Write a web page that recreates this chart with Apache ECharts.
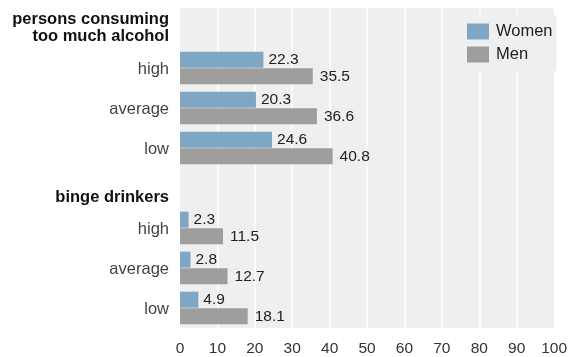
<!DOCTYPE html>
<html>
<head>
<meta charset="utf-8">
<script src="https://cdn.jsdelivr.net/npm/echarts@6/dist/echarts.min.js"></script>
<style>
  html, body { margin: 0; padding: 0; background: #fff; }
  #chart { width: 570px; height: 357px; }
</style>
</head>
<body>
<div id="chart"></div>
<script>
// rows top to bottom; headers carry no bars
var rowLabels = ['persons consuming\ntoo much alcohol', 'high', 'average', 'low', 'binge drinkers', 'high', 'average', 'low'];
var headerRows = [0, 4];
var women = ['-', 22.3, 20.3, 24.6, '-', 2.3, 2.8, 4.9];
var men = ['-', 35.5, 36.6, 40.8, '-', 11.5, 12.7, 18.1];
var xTicks = [0, 100, 10]; // min, max, step

var font = '"Liberation Sans", Arial, Helvetica, sans-serif';

var chart = echarts.init(document.getElementById('chart'));
chart.setOption({
  animation: false,
  textStyle: { fontFamily: font },
  grid: { left: 180, right: 10, top: 8, bottom: 24, backgroundColor: '#efefef', show: true, borderWidth: 0 },
  legend: {
    data: ['Women', 'Men'],
    orient: 'vertical',
    left: 457,
    top: 15,
    padding: [8, 4, 8, 10],
    backgroundColor: '#efefef',
    itemWidth: 22,
    itemHeight: 16,
    itemGap: 6,
    icon: 'rect',
    textStyle: { fontSize: 16.5, color: '#222', fontFamily: font, padding: [0, 0, 0, 2] }
  },
  xAxis: {
    type: 'value',
    min: xTicks[0],
    max: xTicks[1],
    interval: xTicks[2],
    axisLine: { show: false },
    axisTick: { show: false },
    splitLine: { showMinLine: false, showMaxLine: false, lineStyle: { color: '#ffffff', width: 1.5 } },
    axisLabel: { fontSize: 15.5, color: '#333', margin: 13, fontFamily: font }
  },
  yAxis: {
    type: 'category',
    inverse: true,
    data: rowLabels.map(function (l, i) { return 'r' + i; }),
    axisLine: { show: false },
    axisTick: { show: false },
    splitLine: { show: false },
    axisLabel: {
      margin: 11,
      formatter: function (v, idx) {
        if (headerRows.indexOf(idx) >= 0) {
          return idx === 0 ? '{h|' + rowLabels[idx].split('\n').join('}\n{h|') + '}' : '{hs|' + rowLabels[idx] + '}';
        }
        return '{n|' + rowLabels[idx] + '}';
      },
      rich: {
        h: { fontSize: 16.5, fontWeight: 'bold', color: '#111', lineHeight: 17, align: 'right', fontFamily: font },
        hs: { fontSize: 16.5, fontWeight: 'bold', color: '#111', lineHeight: 17, padding: [18, 0, 0, 0], align: 'right', fontFamily: font },
        n: { fontSize: 16.5, color: '#444', lineHeight: 17, padding: [2, 0, 0, 0], align: 'right', fontFamily: font }
      }
    }
  },
  series: [
    {
      name: 'Women',
      type: 'bar',
      data: women,
      barWidth: 16,
      barGap: '4%',
      itemStyle: { color: '#7fa6c4' },
      label: { show: true, position: 'right', distance: 5, fontSize: 15.5, color: '#222', fontFamily: font }
    },
    {
      name: 'Men',
      type: 'bar',
      data: men,
      barWidth: 16,
      itemStyle: { color: '#9e9e9d' },
      label: { show: true, position: 'right', distance: 7, fontSize: 15.5, color: '#222', fontFamily: font }
    }
  ]
});
</script>
</body>
</html>
